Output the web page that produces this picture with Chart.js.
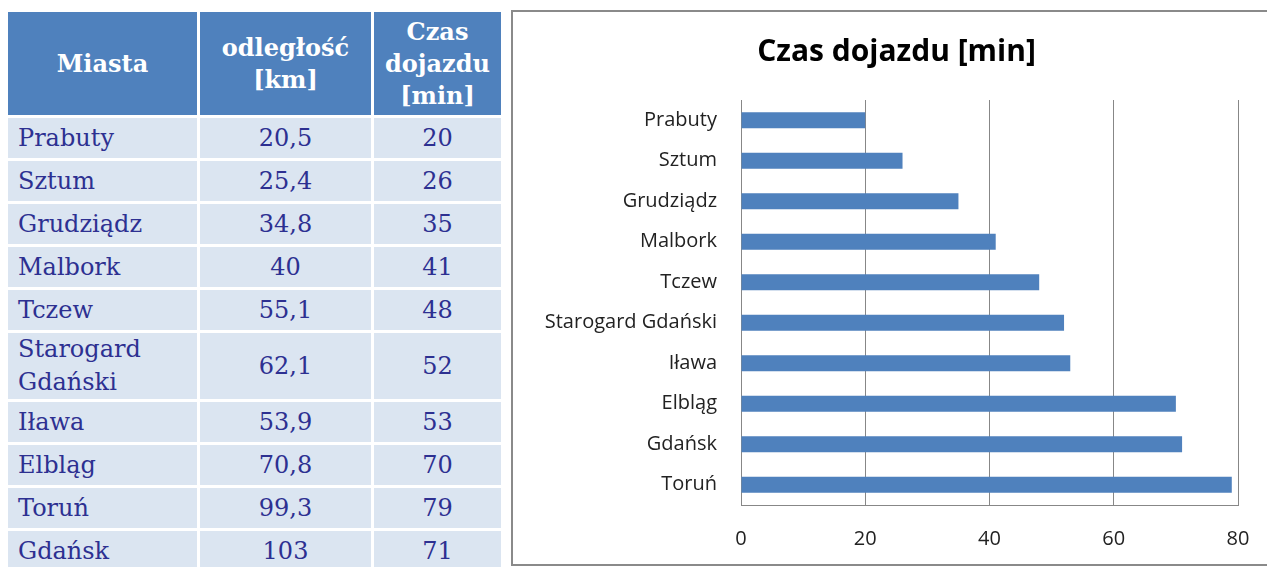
<!DOCTYPE html>
<html>
<head>
<meta charset="utf-8">
<script src="https://cdn.jsdelivr.net/npm/chart.js@4"></script>
<style>
    html, body { margin: 0; padding: 0; background: #fff; overflow: hidden; width: 1267px; height: 567px; }
    #tbl {
        position: absolute; left: 5px; top: 9px;
        border-collapse: separate; border-spacing: 3px;
        font-family: "DejaVu Serif", serif;
        font-size: 24px;
    }
    #tbl th {
        background: #4f81bd; color: #fff; font-weight: bold;
        height: 103px; padding: 0; line-height: 32px; text-align: center; vertical-align: middle;
    }
    #tbl td {
        background: #dbe5f1; color: #2d3091;
        height: 40px; padding: 0; line-height: 33px; vertical-align: middle; text-align: center;
    }
    #tbl td.city { text-align: left; padding-left: 10px; }
    #box {
        position: absolute; left: 511px; top: 10px; width: 780px; height: 556px;
        border: 2px solid #8a8a8a; box-sizing: border-box;
    }
    #chart { position: absolute; left: 513px; top: 12px; }
</style>
</head>
<body>
<table id="tbl">
    <thead><tr>
        <th style="width:189px">Miasta</th>
        <th style="width:171px">odległość<br>[km]</th>
        <th style="width:127px">Czas<br>dojazdu<br>[min]</th>
    </tr></thead>
    <tbody id="tbody"></tbody>
</table>
<div id="box"></div>
<canvas id="chart" width="754" height="551"></canvas>
<script>
// table data
const tableCities = ['Prabuty', 'Sztum', 'Grudziądz', 'Malbork', 'Tczew', 'Starogard Gdański', 'Iława', 'Elbląg', 'Toruń', 'Gdańsk'];
const tableKm = ['20,5', '25,4', '34,8', '40', '55,1', '62,1', '53,9', '70,8', '99,3', '103'];
const tableMin = [20, 26, 35, 41, 48, 52, 53, 70, 79, 71];

// chart data
const cities = ['Prabuty', 'Sztum', 'Grudziądz', 'Malbork', 'Tczew', 'Starogard Gdański', 'Iława', 'Elbląg', 'Gdańsk', 'Toruń'];
const times = [20, 26, 35, 41, 48, 52, 53, 70, 71, 79];
const xTicks = [0, 20, 40, 60, 80];

function fillTable() {
    const tb = document.getElementById('tbody');
    for (let i = 0; i < tableCities.length; i++) {
        const tr = document.createElement('tr');
        tr.innerHTML = '<td class="city">' + tableCities[i] + '</td><td>' + tableKm[i] + '</td><td>' + tableMin[i] + '</td>';
        tb.appendChild(tr);
    }
}

// title in the original sits centred on the whole box, not on the plot
const shiftTitle = {
    id: 'shiftTitle',
    afterLayout: function (chart) {
        if (chart.titleBlock) chart.titleBlock.left += 42;
    }
};

function generateBarChart(labels, values, elementId) {
    const ctx = document.getElementById(elementId).getContext('2d');
    const gridColor = '#878787';
    const font = '"Open Sans", Lato, sans-serif';
    let config = {
        type: 'bar',
        data: {
            labels: labels,
            datasets: [{
                label: 'Czas dojazdu [min]',
                data: values,
                backgroundColor: '#4f81bd',
                borderWidth: 0,
                categoryPercentage: 1,
                barPercentage: 0.4
            }]
        },
        options: {
            indexAxis: 'y',
            responsive: false,
            devicePixelRatio: 1,
            animation: false,
            layout: { padding: { left: 0, right: 29, top: 0, bottom: 0 } },
            plugins: {
                legend: { display: false },
                tooltip: { enabled: false },
                title: {
                    display: true,
                    text: 'Czas dojazdu [min]',
                    color: '#000',
                    font: { family: font, size: 30, weight: 'bold' },
                    padding: { top: 22, bottom: 30 }
                }
            },
            scales: {
                x: {
                    min: 0,
                    max: 80,
                    afterBuildTicks: function (scale) {
                        scale.ticks = xTicks.map(v => ({ value: v }));
                    },
                    afterFit: function (scale) {
                        scale.height = 58;
                        scale.paddingLeft = 0;
                        scale.paddingRight = 0;
                    },
                    grid: { color: gridColor, drawTicks: false },
                    border: { display: true, color: gridColor },
                    ticks: { color: '#222', font: { family: font, size: 20 }, padding: 22 }
                },
                y: {
                    afterFit: function (scale) { scale.width = 228; },
                    grid: { display: false, drawTicks: false },
                    border: { display: true, color: gridColor },
                    ticks: { color: '#222', font: { family: font, size: 20 }, padding: 24 }
                }
            }
        },
        plugins: [shiftTitle]
    };
    const myChart = new Chart(ctx, config);
}

fillTable();
generateBarChart(cities, times, 'chart');
</script>
</body>
</html>
